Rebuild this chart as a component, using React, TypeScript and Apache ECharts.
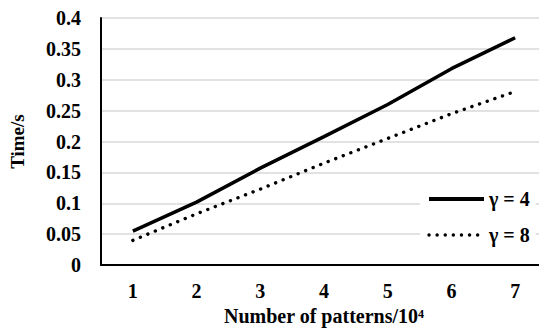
import React, { useEffect, useRef } from "react";
import * as echarts from "echarts";

const categories = ["1", "2", "3", "4", "5", "6", "7"];
const gamma4 = [0.055, 0.102, 0.157, 0.208, 0.26, 0.318, 0.368];
const gamma8 = [0.04, 0.083, 0.123, 0.165, 0.205, 0.245, 0.281];
const seriesNames = ["γ = 4", "γ = 8"];

const FONT = "'Liberation Serif', 'Times New Roman', serif";

export default function App() {
  const ref = useRef<HTMLDivElement>(null);
  useEffect(() => {
    if (!ref.current) return;
    const chart = echarts.init(ref.current, undefined, { renderer: "svg" });
    chart.setOption({
      animation: false,
      backgroundColor: "#ffffff",
      textStyle: { fontFamily: FONT },
      grid: { left: 96, top: 18, bottom: 65, right: 0, containLabel: false },
      legend: {
        orient: "vertical",
        left: 420,
        top: 183,
        backgroundColor: "#ffffff",
        padding: [6, 6, 6, 7],
        itemWidth: 55,
        itemHeight: 14,
        itemGap: 16,
        itemStyle: { opacity: 0, borderWidth: 0 },
        textStyle: { fontFamily: FONT, fontWeight: "bold", fontSize: 20, color: "#000" },
        data: [
          { name: seriesNames[0], lineStyle: { width: 4 } },
          { name: seriesNames[1], lineStyle: { width: 3.4 } },
        ],
      },
      xAxis: {
        type: "category",
        data: categories,
        boundaryGap: true,
        axisLine: { lineStyle: { color: "#000", width: 2 } },
        axisTick: { show: false },
        axisLabel: { fontFamily: FONT, fontWeight: "bold", fontSize: 20, color: "#000", margin: 16 },
        name: "Number of patterns/10⁴",
        nameLocation: "middle",
        nameGap: 40,
        nameTextStyle: { fontFamily: FONT, fontWeight: "bold", fontSize: 20, color: "#000", padding: [0, 0, 0, 0] },
      },
      yAxis: {
        type: "value",
        min: 0,
        max: 0.4,
        interval: 0.05,
        axisLine: { show: true, lineStyle: { color: "#000", width: 2 } },
        axisTick: { show: false },
        splitLine: { lineStyle: { color: "#d9d9d9", width: 1.5 } },
        axisLabel: {
          fontFamily: FONT,
          fontWeight: "bold",
          fontSize: 20,
          color: "#000",
          margin: 20,
          formatter: (v: number) => String(parseFloat(v.toFixed(2))),
        },
        name: "Time/s",
        nameLocation: "middle",
        nameGap: 74,
        nameRotate: 90,
        nameTextStyle: { fontFamily: FONT, fontWeight: "bold", fontSize: 19, color: "#000" },
      },
      series: [
        {
          name: seriesNames[0],
          type: "line",
          data: gamma4,
          symbol: "none",
          lineStyle: { color: "#000", width: 3.5 },
          itemStyle: { color: "#000" },
        },
        {
          name: seriesNames[1],
          type: "line",
          data: gamma8,
          symbol: "none",
          lineStyle: { color: "#000", width: 3.4, type: [0.1, 8], cap: "round" },
          itemStyle: { color: "#000" },
        },
      ],
    });
    return () => chart.dispose();
  }, []);
  return (
    <div style={{ position: "absolute", left: 0, top: 0, width: 539, height: 331, overflow: "hidden" }}>
      <div ref={ref} style={{ width: 547, height: 331 }} />
    </div>
  );
}
